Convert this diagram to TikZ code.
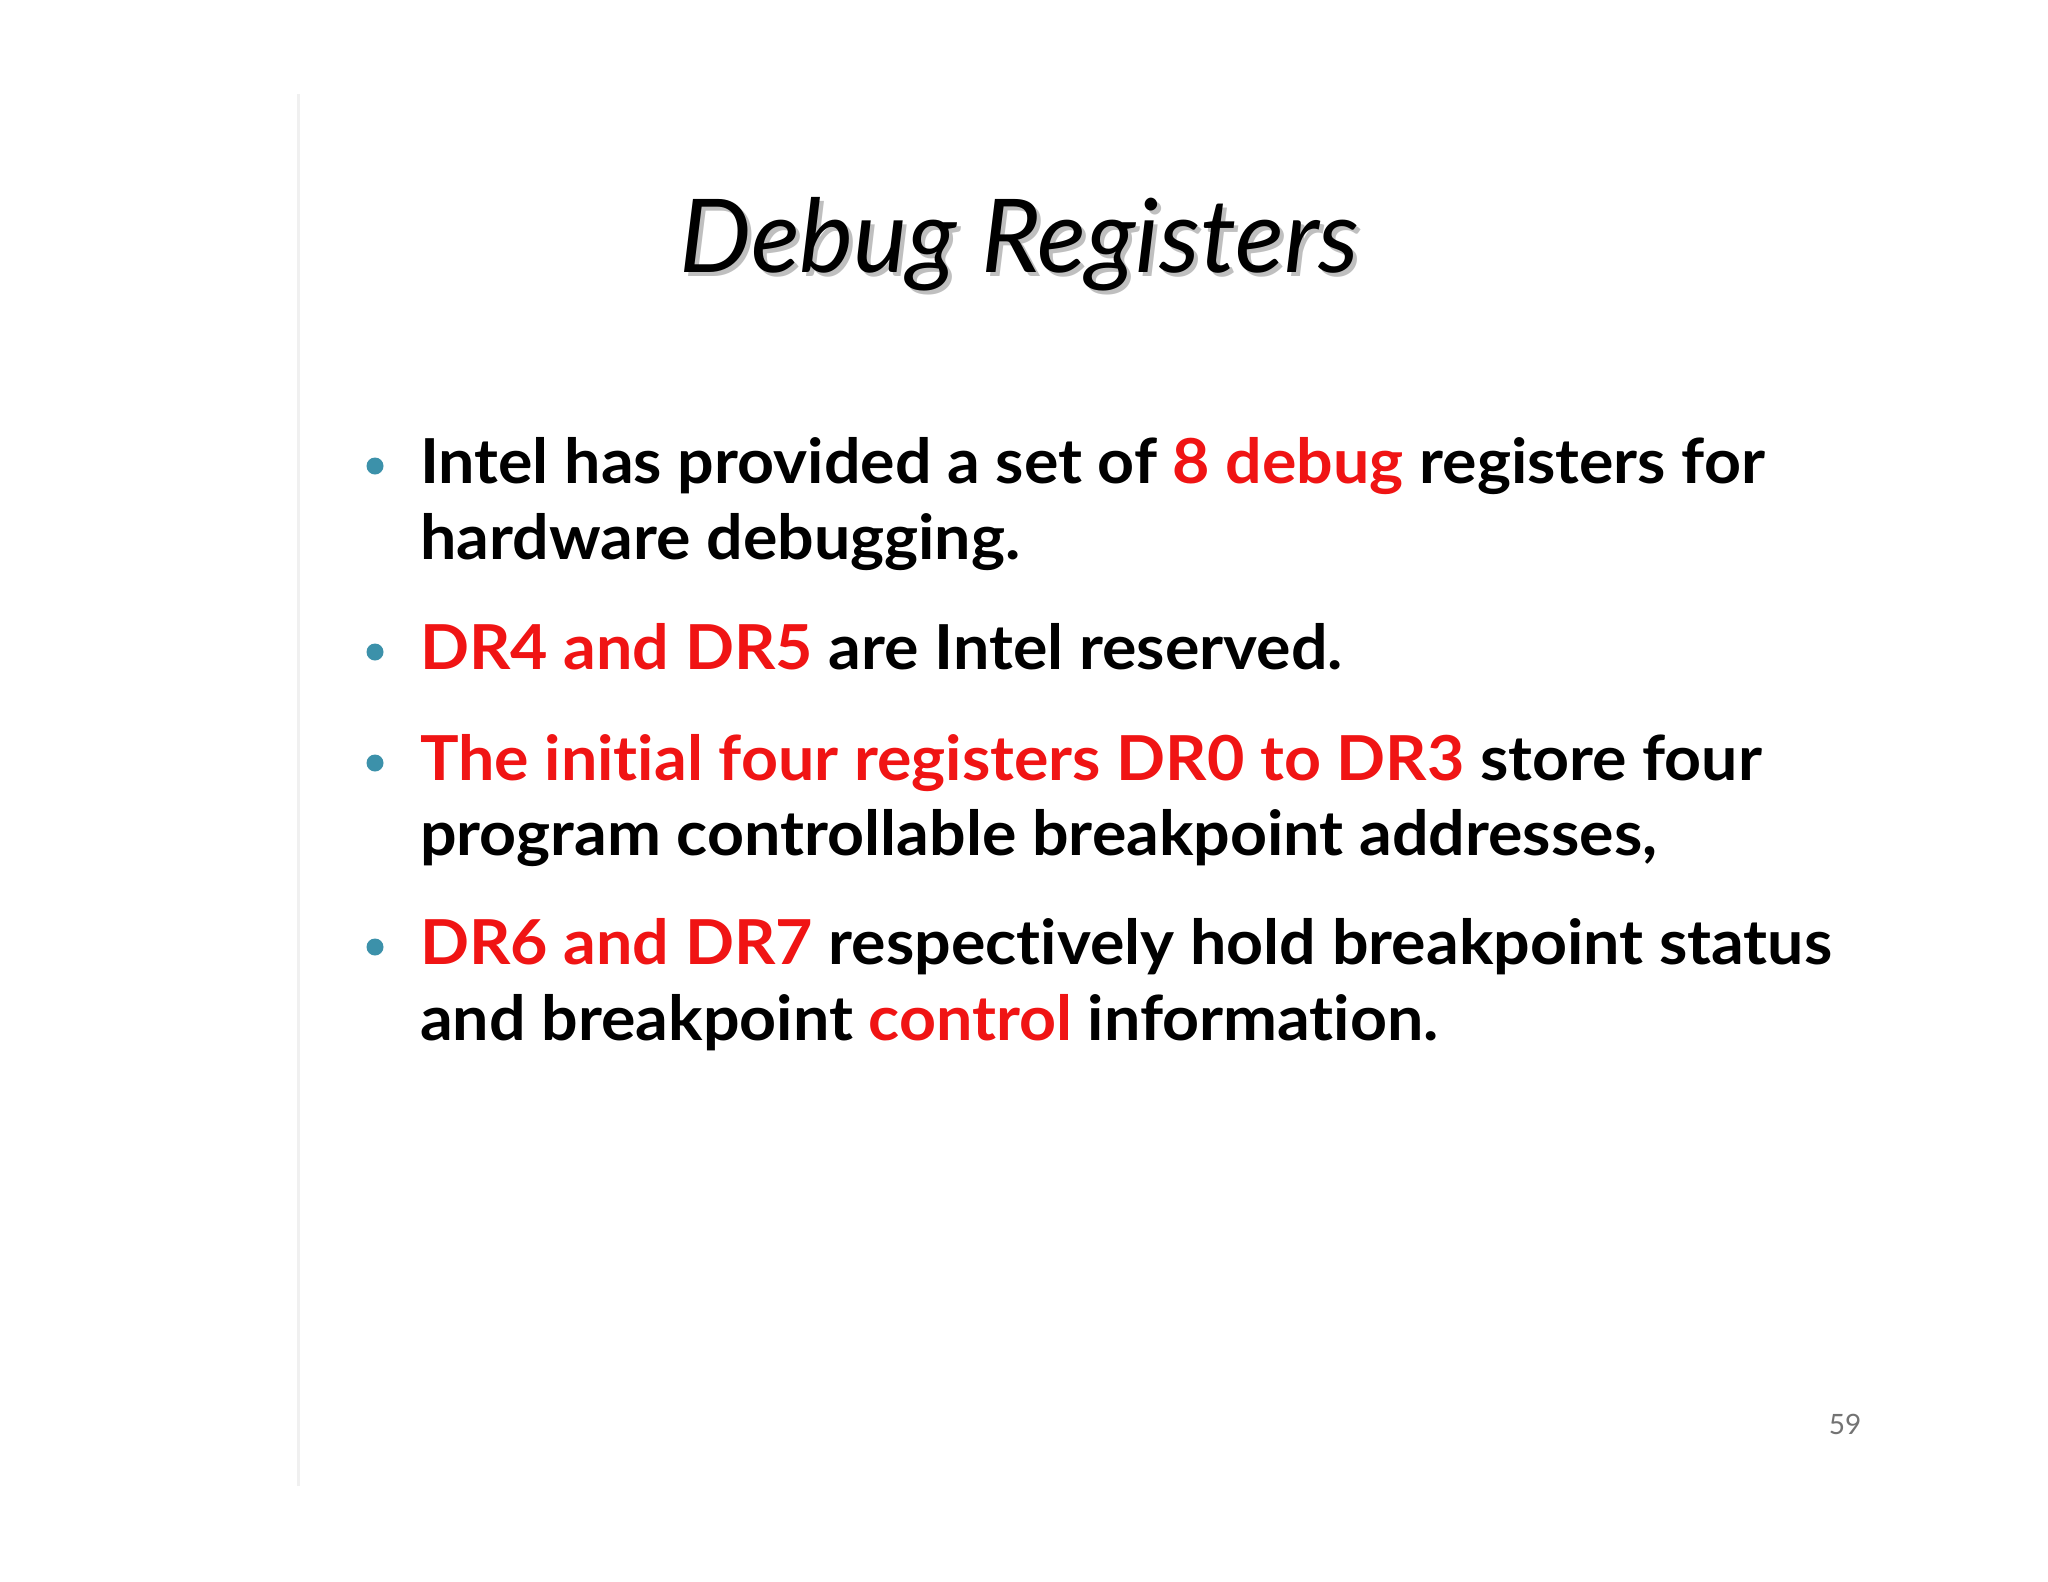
\documentclass[tikz,border=0pt]{standalone}
\usepackage{fontspec}
\setmainfont{Lato}[Ligatures=NoCommon]
\newfontfamily\bodyfont{Lato}[Ligatures=NoCommon,BoldFeatures={FakeStretch=1.04}]
\definecolor{rd}{RGB}{240,20,20}
\definecolor{bl}{RGB}{60,145,170}
\tikzset{line/.style={anchor=base west,inner sep=0pt,font=\bodyfont\fontsize{62}{64}\selectfont\bfseries},
 dot/.style={circle,fill=bl,inner sep=0pt,minimum size=17pt}}
\begin{document}
\begin{tikzpicture}[x=1pt,y=-1pt]
\fill[white] (0,0) rectangle (2048,1582);
\draw[black!6,line width=3pt] (298,94) -- (298,1486);
\node[anchor=base,inner sep=0pt,font=\fontsize{102}{104}\selectfont\itshape,text=black!50,opacity=0.5] at (1023,276) {Debug Registers};
\node (title) [anchor=base,inner sep=0pt,font=\fontsize{102}{104}\selectfont\itshape] at (1019,272) {Debug Registers};
\node (b1) [dot] at (375,466) {};
\node (l1) [line] at (420,483) {Intel has provided a set of \textcolor{rd}{8 debug} registers for};
\node (l1b) [line] at (420,559) {hardware debugging.};
\node (b2) [dot] at (375,652) {};
\node (l2) [line] at (420,669) {\textcolor{rd}{DR4 and DR5} are Intel reserved.};
\node (b3) [dot] at (375,763) {};
\node (l3) [line] at (420,780) {\textcolor{rd}{The initial four registers DR0 to DR3} store four};
\node (l3b) [line] at (420,855) {program controllable breakpoint addresses,};
\node (b4) [dot] at (375,947) {};
\node (l4) [line] at (420,964) {\textcolor{rd}{DR6 and DR7} respectively hold breakpoint status};
\node (l4b) [line] at (420,1040) {and breakpoint \textcolor{rd}{control} information.};
\node (pg) [anchor=base,inner sep=0pt,font=\fontsize{28}{30}\selectfont,text=black!55] at (1845,1434) {59};
\end{tikzpicture}
\end{document}
